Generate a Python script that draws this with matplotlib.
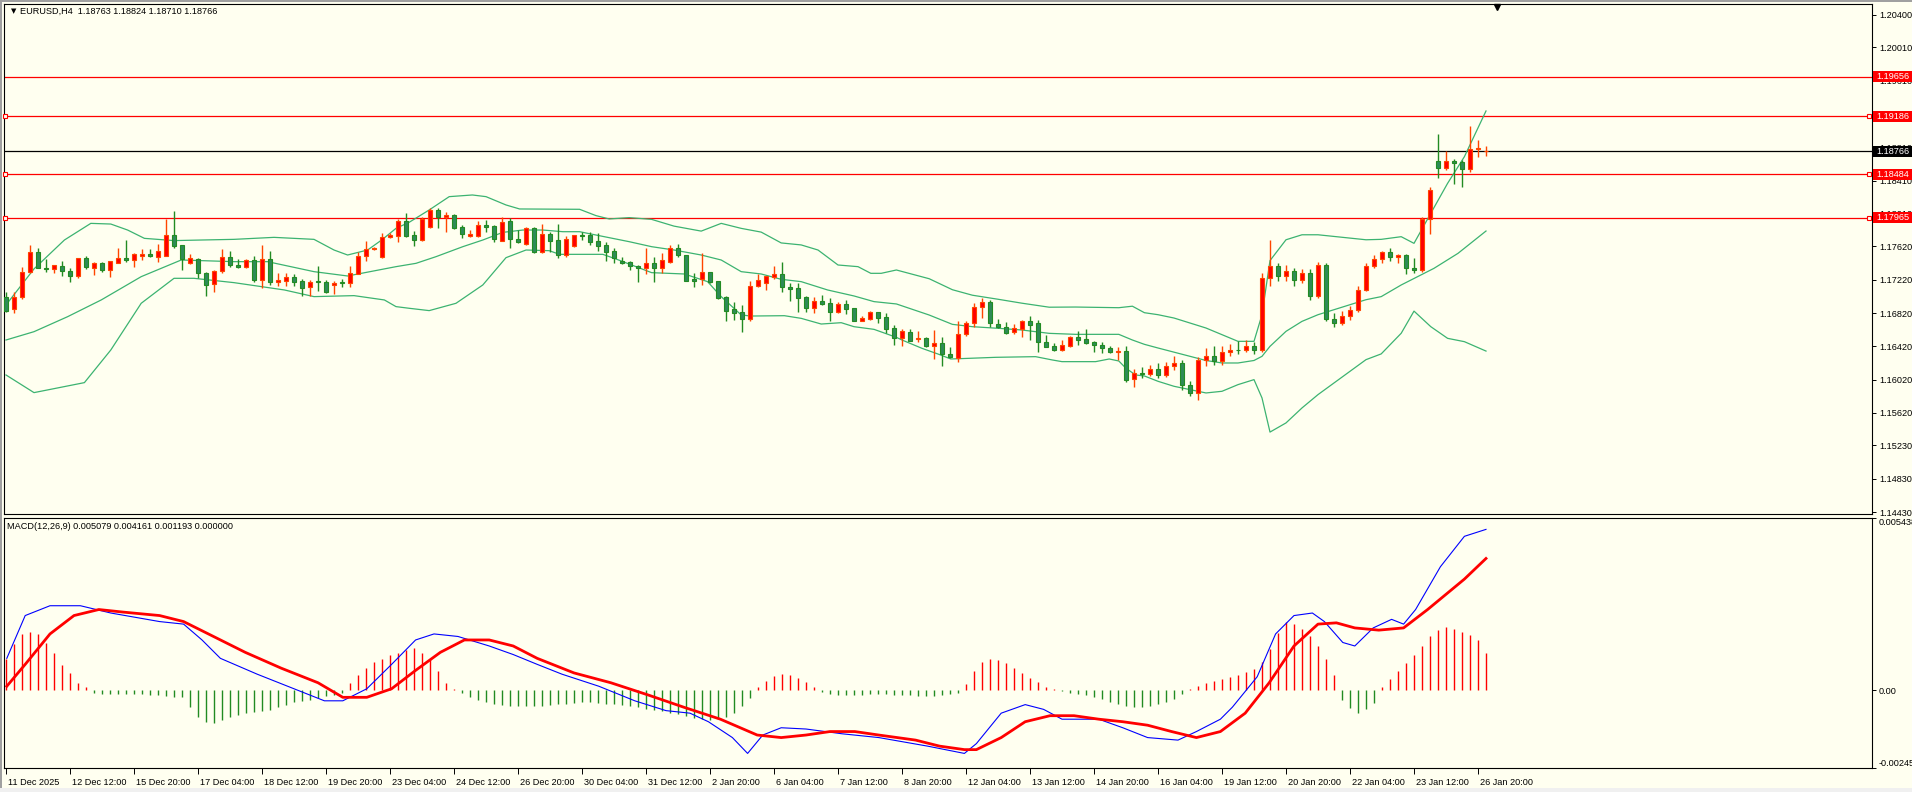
import matplotlib
matplotlib.use("Agg")
import matplotlib.pyplot as plt
import numpy as np
from matplotlib.patches import Rectangle
from matplotlib.transforms import blended_transform_factory, ScaledTranslation

plt.rcParams["font.family"] = ["Liberation Sans", "DejaVu Sans"]

# ---- candles (EURUSD H4) ----
opens = [
    1.17017, 1.16864, 1.17009, 1.17309, 1.17553, 1.17361, 1.17345, 1.17385, 1.17325, 1.17269,
    1.17477, 1.17365, 1.17421, 1.17341, 1.17425, 1.17477, 1.17461, 1.17509, 1.17529, 1.17497,
    1.17509, 1.17757, 1.17633, 1.17417, 1.17465, 1.17297, 1.17165, 1.17321, 1.17489, 1.17397,
    1.17377, 1.17453, 1.17217, 1.17465, 1.17189, 1.17209, 1.17249, 1.17205, 1.17129, 1.17205,
    1.17197, 1.17153, 1.17193, 1.17177, 1.17293, 1.17509, 1.17585, 1.17497, 1.17729, 1.17749,
    1.17926, 1.17757, 1.17701, 1.17850, 1.18058, 1.17974, 1.17994, 1.17849, 1.17749, 1.17749,
    1.17878, 1.17861, 1.17689, 1.17926, 1.17709, 1.17645, 1.17845, 1.17557, 1.17765, 1.17697,
    1.17517, 1.17629, 1.17757, 1.17757, 1.17685, 1.17637, 1.17565, 1.17445, 1.17433, 1.17389,
    1.17357, 1.17417, 1.17357, 1.17437, 1.17600, 1.17517, 1.17225, 1.17225, 1.17309, 1.17205,
    1.17013, 1.16865, 1.16833, 1.16748, 1.17149, 1.17177, 1.17257, 1.17289, 1.17129, 1.17117,
    1.17013, 1.16884, 1.16961, 1.16937, 1.16837, 1.16929, 1.16877, 1.16728, 1.16752, 1.16833,
    1.16768, 1.16636, 1.16516, 1.16588, 1.16504, 1.16516, 1.16428, 1.16456, 1.16324, 1.16284,
    1.16564, 1.16696, 1.16896, 1.16948, 1.16684, 1.16648, 1.16588, 1.16628, 1.16724, 1.16696,
    1.16468, 1.16424, 1.16376, 1.16428, 1.16532, 1.16508, 1.16468, 1.16436, 1.16396, 1.16356,
    1.16364, 1.16024, 1.16096, 1.16090, 1.16150, 1.16080, 1.16180, 1.16220, 1.15960, 1.15860,
    1.16250, 1.16300, 1.16240, 1.16350, 1.16380, 1.16370, 1.16420, 1.16380, 1.17240, 1.17380,
    1.17260, 1.17330, 1.17220, 1.17300, 1.17020, 1.17400, 1.16750, 1.16700, 1.16780, 1.16860,
    1.17100, 1.17390, 1.17465, 1.17549, 1.17489, 1.17517, 1.17357, 1.17341, 1.17946, 1.18646,
    1.18566, 1.18642, 1.18634, 1.18554, 1.18786, 1.18763,
]
highs = [
    1.17077, 1.17069, 1.17377, 1.17637, 1.17597, 1.17465, 1.17400, 1.17445, 1.17357, 1.17480,
    1.17505, 1.17437, 1.17437, 1.17445, 1.17597, 1.17697, 1.17545, 1.17585, 1.17585, 1.17645,
    1.17950, 1.18046, 1.17640, 1.17529, 1.17477, 1.17317, 1.17337, 1.17589, 1.17565, 1.17465,
    1.17465, 1.17505, 1.17637, 1.17565, 1.17297, 1.17297, 1.17289, 1.17225, 1.17217, 1.17385,
    1.17217, 1.17205, 1.17229, 1.17385, 1.17557, 1.17689, 1.17617, 1.17777, 1.17777, 1.17946,
    1.18018, 1.17805, 1.17978, 1.18078, 1.18078, 1.18030, 1.18006, 1.17878, 1.17817, 1.17926,
    1.17938, 1.17878, 1.17970, 1.17958, 1.17817, 1.17858, 1.17858, 1.17890, 1.17797, 1.17890,
    1.17749, 1.17755, 1.17797, 1.17797, 1.17777, 1.17677, 1.17597, 1.17497, 1.17445, 1.17397,
    1.17605, 1.17497, 1.17537, 1.17640, 1.17650, 1.17520, 1.17297, 1.17545, 1.17312, 1.17207,
    1.17025, 1.16949, 1.16917, 1.17205, 1.17285, 1.17270, 1.17385, 1.17429, 1.17177, 1.17177,
    1.17025, 1.17013, 1.17037, 1.16997, 1.16949, 1.16977, 1.16880, 1.16784, 1.16841, 1.16836,
    1.16825, 1.16680, 1.16628, 1.16628, 1.16604, 1.16536, 1.16616, 1.16528, 1.16408, 1.16724,
    1.16724, 1.16936, 1.16996, 1.16976, 1.16744, 1.16716, 1.16688, 1.16736, 1.16784, 1.16736,
    1.16556, 1.16456, 1.16496, 1.16548, 1.16604, 1.16628, 1.16484, 1.16476, 1.16424, 1.16408,
    1.16424, 1.16148, 1.16176, 1.16200, 1.16220, 1.16230, 1.16300, 1.16250, 1.16000, 1.16290,
    1.16400, 1.16420, 1.16420, 1.16450, 1.16480, 1.16500, 1.16470, 1.17300, 1.17700, 1.17420,
    1.17400, 1.17360, 1.17350, 1.17350, 1.17430, 1.17420, 1.16820, 1.16850, 1.16900, 1.17150,
    1.17420, 1.17520, 1.17569, 1.17597, 1.17529, 1.17529, 1.17477, 1.17978, 1.18330, 1.18971,
    1.18766, 1.18666, 1.18658, 1.19067, 1.18899, 1.18824,
]
lows = [
    1.16836, 1.16824, 1.16993, 1.17297, 1.17357, 1.17317, 1.17305, 1.17265, 1.17197, 1.17237,
    1.17353, 1.17277, 1.17317, 1.17257, 1.17417, 1.17433, 1.17377, 1.17457, 1.17489, 1.17437,
    1.17505, 1.17605, 1.17337, 1.17409, 1.17245, 1.17029, 1.17077, 1.17305, 1.17377, 1.17357,
    1.17365, 1.17197, 1.17125, 1.17157, 1.17149, 1.17145, 1.17145, 1.17029, 1.17025, 1.17089,
    1.17065, 1.17053, 1.17137, 1.17129, 1.17289, 1.17449, 1.17577, 1.17485, 1.17725, 1.17677,
    1.17737, 1.17629, 1.17689, 1.17845, 1.17845, 1.17797, 1.17829, 1.17725, 1.17737, 1.17737,
    1.17797, 1.17669, 1.17689, 1.17605, 1.17657, 1.17637, 1.17537, 1.17537, 1.17557, 1.17485,
    1.17497, 1.17617, 1.17697, 1.17637, 1.17565, 1.17445, 1.17425, 1.17413, 1.17333, 1.17197,
    1.17285, 1.17197, 1.17305, 1.17417, 1.17497, 1.17205, 1.17129, 1.17157, 1.17177, 1.16989,
    1.16728, 1.16736, 1.16596, 1.16728, 1.17137, 1.17097, 1.17225, 1.17077, 1.16969, 1.16836,
    1.16836, 1.16825, 1.16917, 1.16728, 1.16817, 1.16809, 1.16725, 1.16725, 1.16736, 1.16696,
    1.16576, 1.16436, 1.16428, 1.16484, 1.16468, 1.16408, 1.16264, 1.16188, 1.16284, 1.16228,
    1.16544, 1.16656, 1.16756, 1.16656, 1.16636, 1.16564, 1.16564, 1.16536, 1.16496, 1.16348,
    1.16410, 1.16364, 1.16364, 1.16416, 1.16436, 1.16444, 1.16356, 1.16336, 1.16336, 1.16256,
    1.15996, 1.15936, 1.16036, 1.16060, 1.16040, 1.16050, 1.16140, 1.15900, 1.15820, 1.15780,
    1.16180, 1.16200, 1.16200, 1.16300, 1.16330, 1.16350, 1.16330, 1.16350, 1.17150, 1.17200,
    1.17200, 1.17150, 1.17180, 1.16980, 1.17000, 1.16720, 1.16650, 1.16680, 1.16740, 1.16830,
    1.17080, 1.17360, 1.17417, 1.17449, 1.17425, 1.17289, 1.17297, 1.17317, 1.17765, 1.18438,
    1.18538, 1.18366, 1.18338, 1.18518, 1.18698, 1.18710,
]
closes = [
    1.16848, 1.17017, 1.17313, 1.17549, 1.17365, 1.17353, 1.17393, 1.17329, 1.17269, 1.17477,
    1.17377, 1.17421, 1.17337, 1.17441, 1.17481, 1.17457, 1.17529, 1.17529, 1.17509, 1.17561,
    1.17753, 1.17629, 1.17465, 1.17477, 1.17297, 1.17161, 1.17325, 1.17489, 1.17401, 1.17377,
    1.17453, 1.17217, 1.17465, 1.17189, 1.17217, 1.17249, 1.17197, 1.17125, 1.17193, 1.17193,
    1.17077, 1.17181, 1.17185, 1.17297, 1.17505, 1.17585, 1.17597, 1.17729, 1.17757, 1.17926,
    1.17745, 1.17701, 1.17950, 1.18058, 1.17970, 1.17994, 1.17845, 1.17765, 1.17769, 1.17878,
    1.17853, 1.17709, 1.17910, 1.17705, 1.17677, 1.17837, 1.17557, 1.17765, 1.17689, 1.17517,
    1.17709, 1.17753, 1.17749, 1.17677, 1.17629, 1.17557, 1.17477, 1.17425, 1.17389, 1.17357,
    1.17417, 1.17357, 1.17457, 1.17600, 1.17517, 1.17209, 1.17209, 1.17309, 1.17197, 1.17005,
    1.16849, 1.16825, 1.16748, 1.17145, 1.17217, 1.17265, 1.17289, 1.17129, 1.17113, 1.17005,
    1.16884, 1.16961, 1.16929, 1.16837, 1.16929, 1.16873, 1.16728, 1.16756, 1.16833, 1.16764,
    1.16632, 1.16516, 1.16604, 1.16488, 1.16516, 1.16428, 1.16456, 1.16324, 1.16296, 1.16564,
    1.16696, 1.16896, 1.16956, 1.16696, 1.16656, 1.16584, 1.16636, 1.16724, 1.16676, 1.16468,
    1.16416, 1.16376, 1.16436, 1.16532, 1.16496, 1.16464, 1.16436, 1.16396, 1.16356, 1.16368,
    1.16016, 1.16096, 1.16084, 1.16150, 1.16080, 1.16180, 1.16220, 1.15960, 1.15860, 1.16250,
    1.16300, 1.16240, 1.16350, 1.16380, 1.16370, 1.16420, 1.16380, 1.17240, 1.17380, 1.17260,
    1.17330, 1.17220, 1.17300, 1.17020, 1.17400, 1.16750, 1.16700, 1.16780, 1.16860, 1.17100,
    1.17390, 1.17465, 1.17549, 1.17489, 1.17517, 1.17357, 1.17341, 1.17946, 1.18298, 1.18566,
    1.18642, 1.18626, 1.18554, 1.18786, 1.18798, 1.18766,
]

# ---- bands (upper / middle / lower), sampled at bar positions ----
upper_x = [0, 3.5, 7.3, 10.6, 13.1, 15.2, 17.3, 21, 24.4, 28.5, 33.5, 38.5, 41, 42.7, 45.2, 47,
           48.75, 50.4, 52.9, 55.4, 58.3, 60, 62.5, 64.2, 71.7, 73.75, 75.4, 77.9, 80.7, 83.5,
           86.9, 89.4, 91.9, 94.4, 96.9, 99.4, 101.5, 104, 106.5, 108.1, 109.4, 111.3, 115.4,
           118.3, 120.8, 124.1, 127, 130.4, 133.7, 139.1, 140.8, 142.3, 144, 146, 148, 150, 152,
           154, 156, 157, 158, 160, 162, 164, 166, 168, 170, 171.9, 174.4, 176, 178.1, 180.2,
           182.3, 185]
upper_y = [1.16917, 1.17350, 1.17697, 1.17897, 1.17889, 1.17817, 1.17717, 1.17690, 1.17697,
           1.17705, 1.17729, 1.17705, 1.17577, 1.17517, 1.17577, 1.17700, 1.17837, 1.17910,
           1.18058, 1.18218, 1.18238, 1.18218, 1.18118, 1.18070, 1.18066, 1.17990, 1.17950,
           1.17966, 1.17945, 1.17864, 1.17804, 1.17897, 1.17837, 1.17792, 1.17662, 1.17638,
           1.17577, 1.17397, 1.17377, 1.17297, 1.17297, 1.17337, 1.17232, 1.17100, 1.17034,
           1.16984, 1.16938, 1.16890, 1.16892, 1.16884, 1.16902, 1.16824, 1.16800, 1.16760,
           1.16700, 1.16640, 1.16560, 1.16480, 1.16480, 1.16800, 1.17450, 1.17700, 1.17760,
           1.17760, 1.17740, 1.17720, 1.17700, 1.17705, 1.17737, 1.17657, 1.18018, 1.18378,
           1.18698, 1.19247]
middle_x = [0, 3.5, 7.7, 11.9, 16.9, 21.9, 28.5, 32.7, 38.5, 42.7, 48.75, 51.25, 53.75, 57.1,
            59.6, 62.1, 64.6, 67.1, 69.6, 71.7, 73.75, 77.9, 80.7, 83.5, 86.9, 89.4, 91.9, 94.4,
            96.9, 99.4, 102.7, 106, 108.5, 111.3, 115.4, 118.3, 120.8, 124.1, 127, 130.4, 133.7,
            139.1, 140.8, 142.3, 144, 146, 148, 150, 152, 154, 156, 157, 158, 160, 162, 164, 166,
            168, 170, 171.9, 174.4, 178.5, 181.5, 185]
middle_y = [1.16496, 1.16596, 1.16776, 1.16977, 1.17257, 1.17457, 1.17437, 1.17437, 1.17317,
            1.17265, 1.17377, 1.17417, 1.17497, 1.17617, 1.17697, 1.17789, 1.17817, 1.17817,
            1.17797, 1.17797, 1.17757, 1.17677, 1.17617, 1.17577, 1.17517, 1.17457, 1.17317,
            1.17289, 1.17225, 1.17197, 1.17097, 1.17025, 1.16957, 1.16929, 1.16796, 1.16684,
            1.16656, 1.16636, 1.16616, 1.16576, 1.16564, 1.16564, 1.16496, 1.16444, 1.16400,
            1.16350, 1.16300, 1.16250, 1.16220, 1.16220, 1.16250, 1.16300, 1.16420, 1.16600,
            1.16720, 1.16800, 1.16860, 1.16920, 1.16980, 1.17017, 1.17157, 1.17357, 1.17537,
            1.17805]
lower_x = [0, 3.5, 9.8, 13.1, 16.9, 21, 23.5, 28.5, 34.8, 38.5, 43.5, 47.3, 48.75, 50.4, 52.9,
           56.25, 59.6, 62.5, 65, 67.9, 69.2, 74.6, 76.25, 78.75, 80.7, 84.8, 87.7, 89.4, 91.9,
           93.1, 97.3, 99.4, 101.9, 104.4, 106, 108.5, 111.3, 112, 114.5, 116.6, 118.1, 120.4,
           123.7, 128.7, 130.8, 132, 136.2, 137.9, 139.1, 140, 141.2, 142.3, 144, 146, 148, 150,
           152, 154, 156, 157, 158, 160, 162, 164, 166, 168, 170, 171.9, 174.4, 176, 178.1,
           180.2, 182.3, 185]
lower_y = [1.16076, 1.15864, 1.15984, 1.16376, 1.16937, 1.17237, 1.17237, 1.17185, 1.17097,
           1.17017, 1.17029, 1.16977, 1.16897, 1.16877, 1.16849, 1.16937, 1.17157, 1.17485,
           1.17577, 1.17569, 1.17525, 1.17525, 1.17469, 1.17377, 1.17305, 1.17289, 1.17197,
           1.17017, 1.16797, 1.16784, 1.16788, 1.16756, 1.16688, 1.16704, 1.16656, 1.16624,
           1.16528, 1.16496, 1.16396, 1.16324, 1.16268, 1.16276, 1.16288, 1.16296, 1.16256,
           1.16236, 1.16236, 1.16268, 1.16244, 1.16156, 1.16076, 1.16064, 1.16000, 1.15940,
           1.15900, 1.15860, 1.15880, 1.15960, 1.16020, 1.15800, 1.15390, 1.15500, 1.15680,
           1.15840, 1.15980, 1.16120, 1.16260, 1.16329, 1.16577, 1.16843, 1.16656, 1.16516,
           1.16476, 1.16363]

# ---- MACD(12,26,9) ----
macd_x = [0.1, 2.4, 5.5, 9.3, 13.1, 19.2, 22.2, 24.5, 26.8, 31.4, 36.0, 39.8, 42.1, 45.1, 48.2,
          51.2, 53.5, 56.5, 60.4, 63.4, 66.4, 69.5, 74.1, 78.6, 82.5, 85.5, 87.8, 90.8, 92.7,
          94.6, 96.9, 100.0, 104.5, 109.1, 115.2, 119.8, 121.3, 124.4, 127.4, 129.7, 132.0,
          136.6, 139.6, 142.7, 146.5, 148.8, 151.8, 153.3, 156.4, 158.7, 161.0, 163.3, 164.8,
          167.1, 168.6, 170.9, 173.2, 174.7, 176.2, 179.3, 182.3, 185]
macd_y = [0.00101, 0.00236, 0.00267, 0.00267, 0.00244, 0.00217, 0.00209, 0.00159, 0.00101,
          0.00051, 0.00005, -0.00033, -0.00033, 0.00005, 0.00082, 0.00159, 0.00178, 0.00170,
          0.00140, 0.00113, 0.00082, 0.00051, 0.00013, -0.00033, -0.00064, -0.00072, -0.00099,
          -0.00149, -0.00199, -0.00141, -0.00118, -0.00122, -0.00137, -0.00149, -0.00176,
          -0.00199, -0.00168, -0.00072, -0.00045, -0.00060, -0.00091, -0.00091, -0.00118,
          -0.00149, -0.00157, -0.00130, -0.00091, -0.00053, 0.00043, 0.00178, 0.00236, 0.00244,
          0.00217, 0.00151, 0.00140, 0.00197, 0.00224, 0.00209, 0.00255, 0.00390, 0.00486,
          0.005079]
signal_x = [0.1, 2.4, 5.5, 8.5, 11.6, 14.6, 19.2, 22.2, 25.3, 29.9, 34.4, 39.0, 42.1, 45.1,
            48.2, 51.2, 54.3, 57.3, 60.4, 63.4, 66.4, 71.0, 75.6, 80.2, 84.7, 89.3, 93.9, 96.9,
            100.0, 103.0, 106.1, 109.1, 113.7, 116.7, 119.8, 121.3, 124.4, 127.4, 130.5, 133.5,
            136.6, 139.6, 142.7, 145.7, 148.8, 151.8, 154.9, 157.9, 161.0, 164.0, 166.3, 168.6,
            171.6, 174.7, 177.7, 182.3, 185]
signal_y = [0.00013, 0.00082, 0.00178, 0.00236, 0.00255, 0.00247, 0.00236, 0.00217, 0.00178,
            0.00120, 0.00070, 0.00024, -0.00022, -0.00022, 0.00005, 0.00063, 0.00120, 0.00159,
            0.00159, 0.00140, 0.00101, 0.00055, 0.00024, -0.00014, -0.00053, -0.00091, -0.00141,
            -0.00149, -0.00141, -0.00130, -0.00130, -0.00141, -0.00157, -0.00176, -0.00187,
            -0.00187, -0.00149, -0.00099, -0.00080, -0.00080, -0.00091, -0.00099, -0.00110,
            -0.00130, -0.00149, -0.00130, -0.00072, 0.00024, 0.00140, 0.00209, 0.00213, 0.00197,
            0.00190, 0.00197, 0.00255, 0.00351, 0.004161]
# histogram, in units of 1e-5
hist = [
    100, 146, 177, 185, 177, 150, 119, 81, 54, 23, 12,
    -8, -10, -12, -12, -12, -12, -12, -14, -15, -17, -20, -22,
    -54, -85, -100, -104, -92, -85, -77, -73, -69, -65, -62, -54, -46,
    -38, -35, -31, -23, -19, -15, -8,
    23, 50, 69, 89, 100, 112, 119, 127, 135, 119, 100, 62,
    23, 4, -8,
    -20, -30, -38, -42, -46, -48, -50, -50, -50, -48, -46, -44, -42,
    -40, -38, -38, -40, -42, -44, -46, -50, -54, -58,
    -62, -66, -70, -74, -80, -86, -90, -92, -90, -85, -70, -50,
    -25, 10, 30, 45, 52, 50, 40,
    25, 10, -5, -12, -15,
    -15, -15, -14, -13, -12, -13, -14, -15, -16, -17, -18, -18, -16, -12, -8,
    20, 60, 90, 100, 95, 85, 70, 55, 40, 25,
    10, 3, -3, -8, -12, -15,
    -20, -28, -36, -44, -50, -54, -54, -50, -44, -36, -26,
    -12, 5, 15, 22, 28, 35, 42, 50, 58, 68, 90, 130, 180,
    215, 210, 195, 170, 140, 100, 50,
    -30, -55, -73, -60, -40,
    10, 35, 60, 85, 110, 140, 170, 190, 200, 195, 185, 175, 160, 119,
]

price_ticks = [1.20400, 1.20010, 1.19610, 1.19210, 1.18810, 1.18410, 1.18010, 1.17620,
               1.17220, 1.16820, 1.16420, 1.16020, 1.15620, 1.15230, 1.14830, 1.14430]
red_levels = [1.19656, 1.19186, 1.18484, 1.17965]
marked_levels = [1.19186, 1.18484, 1.17965]
last_price = 1.18766
date_labels = ["11 Dec 2025", "12 Dec 12:00", "15 Dec 20:00", "17 Dec 04:00", "18 Dec 12:00",
               "19 Dec 20:00", "23 Dec 04:00", "24 Dec 12:00", "26 Dec 20:00", "30 Dec 04:00",
               "31 Dec 12:00", "2 Jan 20:00", "6 Jan 04:00", "7 Jan 12:00", "8 Jan 20:00",
               "12 Jan 04:00", "13 Jan 12:00", "14 Jan 20:00", "16 Jan 04:00", "19 Jan 12:00",
               "20 Jan 20:00", "22 Jan 04:00", "23 Jan 12:00", "26 Jan 20:00"]

BG = "#FFFFF0"
BULL, BULL_EDGE = "#FF0000", "#FF4500"
BEAR, BEAR_EDGE = "#2E8B57", "#228B22"
BAND = "#3CB371"
FS = 6.6

W, H = 1912, 792
fig = plt.figure(figsize=(W / 100, H / 100), dpi=100)
fig.patch.set_facecolor(BG)


def px_axes(x0, y0, x1, y1):
    return fig.add_axes([x0 / W, 1 - y1 / H, (x1 - x0) / W, (y1 - y0) / H])


ax = px_axes(4, 4, 1872, 514)
axm = px_axes(4, 518, 1872, 768)

for a in (ax, axm):
    a.set_facecolor(BG)
    a.set_xlim(-0.25, 233.25)
    for s in a.spines.values():
        s.set_linewidth(0.8)
        s.set_color("black")
    a.yaxis.tick_right()
    a.tick_params(axis="y", direction="out", length=3, width=0.7, pad=2, labelsize=FS)

# ---- price panel ----
o, h, l, c = (np.array(v) for v in (opens, highs, lows, closes))
x = np.arange(len(o))
up = c >= o
body_lo = np.minimum(o, c)
body_h = np.maximum(np.abs(c - o), 0.00003)

for xs, band_y in ((upper_x, upper_y), (middle_x, middle_y), (lower_x, lower_y)):
    ax.plot(xs, band_y, color=BAND, lw=0.9, zorder=2)

for lvl in red_levels:
    ax.axhline(lvl, color="#FF0000", lw=0.9, zorder=1)
ax.axhline(last_price, color="black", lw=0.9, zorder=1)

ax.vlines(x[up], l[up], h[up], color=BULL_EDGE, lw=1.0, zorder=3)
ax.vlines(x[~up], l[~up], h[~up], color=BEAR_EDGE, lw=1.0, zorder=3)
ax.bar(x[up], body_h[up], bottom=body_lo[up], width=0.55, color=BULL,
       edgecolor=BULL_EDGE, linewidth=0.8, zorder=4)
ax.bar(x[~up], body_h[~up], bottom=body_lo[~up], width=0.55, color=BEAR,
       edgecolor=BEAR_EDGE, linewidth=0.8, zorder=4)

ax.set_ylim(1.14406, 1.20532)
ax.set_yticks(price_ticks)
ax.set_yticklabels([f"{t:.5f}" for t in price_ticks])
ax.set_xticks([])

tr = blended_transform_factory(ax.transAxes, ax.transData)
for lvl in marked_levels:
    ax.plot([0.0008, 0.9985], [lvl, lvl], transform=tr, ls="none", marker="s", ms=3.2,
            mfc=BG, mec="#FF0000", mew=0.8, clip_on=False, zorder=6)

# price label boxes on the right scale: from the axis line to the window edge
box_w = (W - 1873) / (1872 - 4)
box_h_px = 11
ax_h_px = 514 - 4
txt_off = ScaledTranslation(4 / 100, 0, fig.dpi_scale_trans)
for lvl in red_levels + [last_price]:
    fc = "black" if lvl == last_price else "#FF0000"
    yf = ax.transLimits.transform((0, lvl))[1]
    ax.add_patch(Rectangle((1.0005, yf - box_h_px / 2 / ax_h_px), box_w, box_h_px / ax_h_px,
                           transform=ax.transAxes, fc=fc, ec="none", clip_on=False, zorder=9))
    ax.text(1.0, lvl, f"{lvl:.5f}", transform=tr + txt_off, ha="left", va="center",
            fontsize=FS, color="white", clip_on=False, zorder=10)

ax.text(0.0035, 0.986, "\u25bc", transform=ax.transAxes, fontsize=5, family="DejaVu Sans",
        va="center", ha="left")
ax.text(0.0086, 0.986, "EURUSD,H4  1.18763 1.18824 1.18710 1.18766", transform=ax.transAxes,
        fontsize=FS, va="center", ha="left")
ax.plot([186.4], [0.995], marker="v", ms=5, color="black",
        transform=blended_transform_factory(ax.transData, ax.transAxes), clip_on=False)

# ---- MACD panel ----
hv = np.array(hist) * 1e-5
axm.vlines(x, 0, hv, colors=np.where(hv >= 0, "#FF0000", "#228B22"), lw=1.0)
axm.plot(macd_x, macd_y, color="#0000FF", lw=0.8)
axm.plot(signal_x, signal_y, color="#FF0000", lw=2.0)

axm.set_ylim(-0.00245, 0.005438)
axm.set_yticks([-0.00245, 0.0, 0.005438])
axm.set_yticklabels(["-0.00245", "0.00", "0.005438"])
ylabs = axm.get_yticklabels()
ylabs[0].set_va("bottom")
ylabs[2].set_va("top")
axm.text(0.0015, 0.965, "MACD(12,26,9) 0.005079 0.004161 0.001193 0.000000",
         transform=axm.transAxes, fontsize=FS, va="center", ha="left")

axm.set_xticks(np.arange(len(date_labels)) * 8)
axm.set_xticklabels(date_labels)
axm.tick_params(axis="x", direction="out", length=4, width=0.7, pad=3, labelsize=FS)
lab_off = ScaledTranslation(1.5 / 100, 0, fig.dpi_scale_trans)
for lab in axm.get_xticklabels():
    lab.set_ha("left")
    lab.set_transform(lab.get_transform() + lab_off)

# window frame bits
fig.patches.append(Rectangle((0, 0), 2 / W, 1, transform=fig.transFigure, fc="#A0A0A0", ec="none"))
fig.patches.append(Rectangle((0, 1 - 2 / H), 1, 2 / H, transform=fig.transFigure, fc="#A0A0A0", ec="none"))
fig.patches.append(Rectangle((0, 0), 1, 4 / H, transform=fig.transFigure, fc="#F0F0F0", ec="none"))

fig.savefig("out.png", dpi=100, facecolor=BG)
